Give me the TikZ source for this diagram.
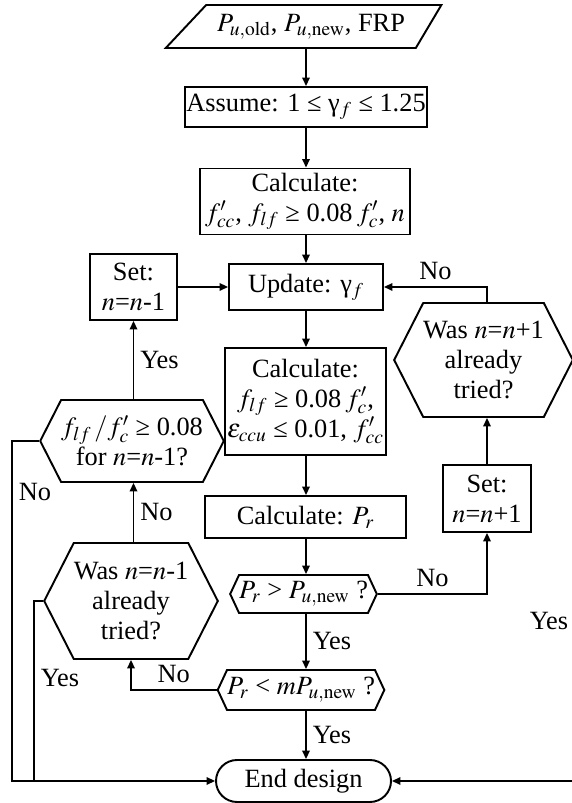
\documentclass[tikz,border=0pt]{standalone}
\usepackage{mathptmx}
\usepackage[no-math]{fontspec}
\setmainfont{Liberation Serif}
\usetikzlibrary{shapes,arrows.meta}

\begin{document}
\begin{tikzpicture}[>={Triangle[length=1.7mm,width=1.5mm]},line width=1.1pt,
	font=\fontsize{15}{17}\selectfont]

	\tikzstyle{block}=[draw,rectangle,align=center,inner sep=1pt]
	\tikzstyle{decision}=[draw,signal,signal to=east and west,signal pointer angle=126,align=center,inner sep=0pt]
	\tikzstyle{check}=[draw,signal,signal to=east and west,signal pointer angle=130,align=center,inner sep=0pt]
	\tikzstyle{terminal}=[draw,rectangle,rounded corners=0.42cm,align=center]
	\tikzstyle{io}=[draw,trapezium,trapezium left angle=38,trapezium right angle=129,trapezium stretches=true,align=center,inner sep=1pt]

	\clip (0,0) rectangle (11.44,16.06);

	% main column
	\node[io,minimum width=5.52cm,minimum height=0.86cm] (input) at (6.22,15.53) {$P_{u,\mathrm{old}}$, $P_{u,\mathrm{new}}$, FRP};
	\node[block,minimum width=4.76cm,minimum height=0.8cm] (assume) at (6.12,13.92) {Assume: 1 ≤ γ$_f$ ≤ 1.25};
	\node[block,minimum width=4.2cm,minimum height=1.32cm] (calc1) at (6.10,12.03) {Calculate:\\ $f'_{cc}$, $f_{lf}$ ≥ 0.08\,$f'_c$, $n$};
	\node[block,minimum width=3.08cm,minimum height=0.92cm] (update) at (6.12,10.32) {Update: γ$_f$};
	\node[block,minimum width=3.1cm,minimum height=2.14cm] (calc2) at (6.11,8.03) {Calculate:\\ $f_{lf}$ ≥ 0.08\,$f'_c$,\\ $\varepsilon_{ccu}$ ≤ 0.01, $f'_{cc}$};
	\node[block,minimum width=4.02cm,minimum height=0.84cm] (calcpr) at (6.11,5.72) {Calculate: $P_r$};
	\node[check,minimum width=2.54cm,minimum height=0.76cm] (check1) at (6.07,4.18) {$P_r$ > $P_{u,\mathrm{new}}$ ?};
	\node[check,minimum width=2.96cm,minimum height=0.8cm] (check2) at (6.02,2.26) {$P_r$ < $mP_{u,\mathrm{new}}$ ?};
	\node[terminal,minimum width=3.5cm,minimum height=0.84cm] (end) at (6.07,0.44) {End design};

	% left column
	\node[block,minimum width=1.74cm,minimum height=1.32cm] (setm) at (2.67,10.32) {Set:\\ $n$=$n$-1};
	\node[decision,minimum width=3.4cm,minimum height=1.64cm] (hexf) at (2.64,7.24) {$f_{lf}\,/f'_c$ ≥ 0.08\\ for $n$=$n$-1?};
	\node[decision,minimum width=3.44cm,minimum height=2.32cm] (hexm) at (2.62,4.04) {Was $n$=$n$-1\\ already\\ tried?};

	% right column
	\node[block,minimum width=1.76cm,minimum height=1.34cm] (setp) at (9.74,6.09) {Set:\\ $n$=$n$+1};
	\node[decision,minimum width=3.38cm,minimum height=2.28cm] (hexp) at (9.67,8.86) {Was $n$=$n$+1\\ already\\ tried?};

	\coordinate (lfar) at (0.24,7.24);
	\coordinate (lmid) at (0.68,4.04);
	\coordinate (rfar) at (11.5,8.86);

	\draw[->] (update.north |- input.south) -- (update.north |- assume.north);
	\draw[->] (update.north |- assume.south) -- (update.north |- calc1.north);
	\draw[->] (update.north |- calc1.south) -- (update.north);
	\draw[->] (update.south) -- (update.south |- calc2.north);
	\draw[->] (update.south |- calc2.south) -- (update.south |- calcpr.north);
	\draw[->] (update.south |- calcpr.south) -- (update.south |- check1.north);
	\draw[->] (update.south |- check1.south) -- (update.south |- check2.north) node[midway,right] {Yes};
	\draw[->] (update.south |- check2.south) -- (update.south |- end.north) node[midway,right] {Yes};

	\draw[->] (check1.east) -| (setp.south) node[pos=0.25,above] {No};
	\draw[->] (setp.north) -- (setp.north |- hexp.south);
	\draw[->] (setp.north |- hexp.north) |- (update.east) node[pos=0.75,above] {No};
	\draw[->] (hexp.east) -- (rfar) |- (end.east) node[pos=0.31,left] {Yes};

	\draw[->] (check2.west) -| (hexm.south) node[pos=0.25,above] {No};
	\draw[->] (setm.south |- hexm.north) -- (setm.south |- hexf.south) node[midway,right] {No};
	\draw[->] (setm.south |- hexf.north) -- (setm.south) node[midway,right] {Yes};
	\draw[->] (setm.east) -- (update.west);
	\draw[->] (hexf.west) -- (lfar) |- (end.west) node[pos=0.075,right] {No};
	\draw (hexm.west) -- (lmid) -- (lmid |- end.west) node[pos=0.43,right] {Yes};

\end{tikzpicture}
\end{document}
